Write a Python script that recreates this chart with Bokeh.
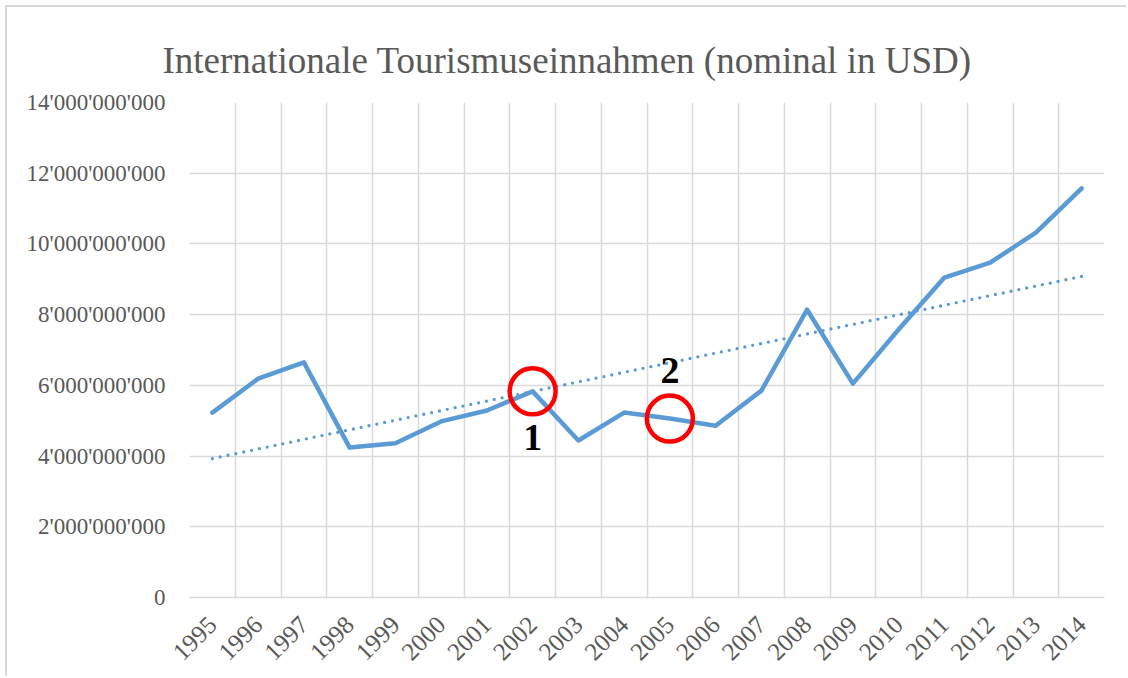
from bokeh.plotting import figure
from bokeh.models import FixedTicker, ColumnDataSource
from bokeh.embed import file_html
from bokeh.resources import INLINE
from bokeh.core.properties import value
import math

# ---- data ----
years = ["1995", "1996", "1997", "1998", "1999", "2000", "2001", "2002", "2003", "2004",
         "2005", "2006", "2007", "2008", "2009", "2010", "2011", "2012", "2013", "2014"]
receipts = [5.23e9, 6.19e9, 6.65e9, 4.24e9, 4.36e9, 4.98e9, 5.29e9, 5.83e9, 4.44e9, 5.23e9,
            5.06e9, 4.86e9, 5.85e9, 8.14e9, 6.05e9, 7.58e9, 9.05e9, 9.47e9, 10.32e9, 11.57e9]
trend_start = 3.93e9   # linear trend at 1995
trend_end = 9.08e9     # linear trend at 2014
y_ticks = [0, 2e9, 4e9, 6e9, 8e9, 10e9, 12e9, 14e9]
y_tick_labels = ["0", "2'000'000'000", "4'000'000'000", "6'000'000'000", "8'000'000'000",
                 "10'000'000'000", "12'000'000'000", "14'000'000'000"]
marked_years = ["2002", "2005"]
marked_labels = ["1", "2"]

TITLE = "Internationale Tourismuseinnahmen (nominal in USD)"
GREY = "#595959"
GRID = "#d9d9d9"
BLUE = "#5B9BD5"
FONT = "Liberation Serif"

xs = [i + 0.5 for i in range(len(years))]

p = figure(width=1121, height=671, output_backend="svg", toolbar_location=None,
           x_range=(0, len(years)), y_range=(0, 14e9),
           min_border_left=182, min_border_right=24, min_border_top=95, min_border_bottom=81,
           title=TITLE)
p.outline_line_color = None
p.styles = {"margin-left": "5px", "margin-top": "5px",
            "border-left": "2px solid #d9d9d9", "border-top": "2px solid #d9d9d9"}

p.title.text_font = FONT
p.title.text_font_size = "37px"
p.title.text_font_style = "normal"
p.title.text_color = GREY
p.title.align = "left"
p.title.vertical_align = "top"
p.title.text_line_height = 1.4
p.title.offset = -27
p.title.standoff = 40

# axes
p.xaxis.ticker = FixedTicker(ticks=xs)
p.xaxis.major_label_overrides = {x: y for x, y in zip(xs, years)}
p.xaxis.major_label_orientation = math.pi / 4
p.xaxis.major_label_text_font = FONT
p.xaxis.major_label_text_font_size = "25px"
p.xaxis.major_label_text_color = GREY
p.xaxis.major_tick_line_color = None
p.xaxis.minor_tick_line_color = None
p.xaxis.axis_line_color = GRID
p.xaxis.axis_line_width = 1.5
p.xaxis.major_label_standoff = 17

p.yaxis.ticker = FixedTicker(ticks=y_ticks)
p.yaxis.major_label_overrides = {int(t): l for t, l in zip(y_ticks, y_tick_labels)}
p.yaxis.major_label_text_font = FONT
p.yaxis.major_label_text_font_size = "23px"
p.yaxis.major_label_text_color = GREY
p.yaxis.major_tick_line_color = None
p.yaxis.minor_tick_line_color = None
p.yaxis.axis_line_color = None
p.yaxis.major_label_standoff = 18

# grids
p.xgrid.ticker = FixedTicker(ticks=list(range(len(years) + 1)))
p.xgrid.grid_line_color = GRID
p.xgrid.grid_line_width = 1.5
p.ygrid.grid_line_color = GRID
p.ygrid.grid_line_width = 1.5

# series
src = ColumnDataSource(dict(x=xs, y=receipts))
p.line("x", "y", source=src, line_color=BLUE, line_width=4.5, line_join="round", line_cap="round")

# trend line (dotted)
p.line([xs[0], xs[-1]], [trend_start, trend_end], line_color=BLUE, line_width=3.3,
       line_dash="0 8", line_cap="round")

# annotation circles and labels
mx = [xs[years.index(y)] for y in marked_years]
my = [receipts[years.index(y)] for y in marked_years]
p.scatter(mx, my, marker="circle", size=46, fill_color=None, line_color="#FF0000", line_width=4.5)
p.text([mx[0]], [my[0]], text=[marked_labels[0]], text_font=value(FONT), text_font_size="38px",
       text_font_style="bold", text_color="black", text_align="center", text_baseline="middle",
       y_offset=46)
p.text([mx[1]], [my[1]], text=[marked_labels[1]], text_font=value(FONT), text_font_size="38px",
       text_font_style="bold", text_color="black", text_align="center", text_baseline="middle",
       y_offset=-48)

open("out.html", "w").write(file_html(p, INLINE))
